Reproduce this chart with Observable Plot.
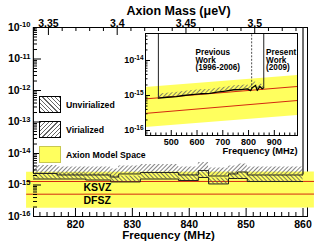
<!DOCTYPE html>
<html><head><meta charset="utf-8">
<script src="https://cdn.jsdelivr.net/npm/d3@7"></script>
<script src="https://cdn.jsdelivr.net/npm/@observablehq/plot@0.6"></script>
<style>
html,body{margin:0;padding:0;background:#fff;}
#wrap{position:relative;width:314px;height:243px;overflow:hidden;font-family:"Liberation Sans",Arial,sans-serif;font-weight:bold;}
#wrap svg{position:absolute;overflow:visible;}
.legbox{position:absolute;box-sizing:border-box;width:22px;height:17px;}
.legtxt{position:absolute;font-size:8.7px;line-height:10px;white-space:nowrap;color:#000;}
</style></head><body>
<svg width="0" height="0" style="position:absolute">
<defs>
<pattern id="hatchFwd" width="3" height="3" patternUnits="userSpaceOnUse" patternTransform="rotate(45)"><line x1="0.5" y1="0" x2="0.5" y2="3" stroke="#666" stroke-width="0.8"/></pattern>
<pattern id="hatchBack" width="3" height="3" patternUnits="userSpaceOnUse" patternTransform="rotate(-45)"><line x1="0.5" y1="0" x2="0.5" y2="3" stroke="#555" stroke-width="0.8"/></pattern>
</defs></svg>
<div id="wrap"></div>
<script>
// ---------- main chart data ----------
const freqTicks = [820, 830, 840, 850, 860];
const massTicks = [3.35, 3.4, 3.45, 3.5];
const decadeTicks = [1e-16, 1e-15, 1e-14, 1e-13, 1e-12, 1e-11, 1e-10];
const binEdges = [812.6, 816.8, 821.8, 826.2, 827.6, 831.4, 838.1, 841.6, 843.4, 846.9, 848.5, 850.2, 860.0];
const virializedLimit   = [2.32e-15, 2.08e-15, 2.08e-15, 1.79e-15, 2.24e-15, 2.49e-15, 2.08e-15, 2.88e-15, 1.93e-15, 2.24e-15, 2.59e-15, 2.08e-15];
const unvirializedLimit = [1.55e-15, 1.55e-15, 1.44e-15, 1.25e-15, 1.25e-15, 1.55e-15, 1.39e-15, 1.73e-15, 1.08e-15, 1.61e-15, 1.61e-15, 1.29e-15];
const modelFreq = [811.4, 862.0];
const modelLow  = [1.83e-16, 1.85e-16];
const modelHigh = [2.55e-15, 2.58e-15];
const ksvzLine  = [1.29e-15, 1.30e-15];
const dfszLine  = [5.1e-16, 5.15e-16];
const legendLabels = ["Unvirialized", "Virialized", "Axion Model Space"];

// ---------- inset data ----------
const insetFreqTicks = [500, 600, 700, 800, 900];
const insetDecades = [1e-16, 1e-15, 1e-14];
const insetBandFreq = [400, 990];
const insetBandLow  = [1.22e-16, 2.68e-16];
const insetBandHigh = [1.69e-15, 3.73e-15];
const insetKsvz = [8.0e-16, 1.81e-15];
const insetDfsz = [3.08e-16, 7.2e-16];
const limitFreq  = [450, 484, 520, 547, 580, 613, 650, 678, 710, 743, 770, 795, 808, 814, 827, 834, 844, 853, 859];
const limitValue = [8.4e-16, 8.9e-16, 9.3e-16, 1.0e-15, 1.06e-15, 1.12e-15, 1.15e-15, 1.24e-15, 1.33e-15, 1.46e-15, 1.48e-15, 1.55e-15, 1.38e-15, 1.66e-15, 1.93e-15, 1.39e-15, 1.81e-15, 1.55e-15, 1.66e-15];
const previousEnd = {f: 812, v: 1.5e-15};

// mass axis conversion (µeV per MHz, with the axis' offset)
const hPlanck = 4.1357e-3, massShift = 0.0216;
const massToFreq = m => (m + massShift) / hPlanck;

const FONT = '"Liberation Sans", Arial, sans-serif';
const YELLOW = "#ffff5e", RED = "#d42a10";

function supers(svg) {
  svg.querySelectorAll("text").forEach(t => {
    const m = /^10\^(-?\d+)$/.exec(t.textContent.trim());
    if (m) {
      t.textContent = "10";
      const ts = document.createElementNS("http://www.w3.org/2000/svg", "tspan");
      ts.setAttribute("dy", "-0.5em");
      ts.setAttribute("font-size", "0.72em");
      ts.textContent = m[1];
      t.append(ts);
    }
  });
}

const wrap = document.getElementById("wrap");

// ---------- main plot ----------
const W = 314, H = 243, mL = 33, mR = 7, mT = 27, mB = 27;
const fw = W - mL - mR, fh = H - mT - mB;
const freqMinor = d3.range(0, 40).map(i => 812.5 + 1.25 * i).filter(f => f > 812.7 && f < 860.7 && !freqTicks.includes(f));
const massMinor = d3.range(334, 354).map(i => i / 100).filter(m => !massTicks.some(t => Math.abs(t - m) < 1e-6));
const decadeMinor = [];
for (let e = -16; e < -10; e++) for (let k = 2; k <= 9; k++) decadeMinor.push(k * Math.pow(10, e));

const modelRows = modelFreq.map((f, i) => ({f, lo: modelLow[i], hi: modelHigh[i]}));
const ksvzRows = modelFreq.map((f, i) => ({f, v: ksvzLine[i]}));
const dfszRows = modelFreq.map((f, i) => ({f, v: dfszLine[i]}));
const stepRows = vals => binEdges.map((x, i) => ({x, v: vals[Math.min(i, vals.length - 1)]}));
const virRows = stepRows(virializedLimit), unvRows = stepRows(unvirializedLimit);
const edgeRules = [{f: binEdges[0], v: virializedLimit[0]}, {f: binEdges[binEdges.length - 1], v: virializedLimit[virializedLimit.length - 1]}];

const main = Plot.plot({
  width: W, height: H, marginLeft: mL, marginRight: mR, marginTop: mT, marginBottom: mB,
  style: {fontFamily: FONT, fontWeight: "bold", fontSize: "10.5px", background: "transparent", overflow: "visible"},
  x: {domain: [812.62, 860.79], label: null},
  y: {type: "log", domain: [1e-16, 1e-10], label: null},
  marks: [
    Plot.frame({stroke: "#000", strokeWidth: 1}),
    Plot.areaY(modelRows, {x: "f", y1: "lo", y2: "hi", fill: YELLOW}),
    Plot.line(ksvzRows, {x: "f", y: "v", stroke: RED, strokeWidth: 1}),
    Plot.line(dfszRows, {x: "f", y: "v", stroke: RED, strokeWidth: 1}),
    Plot.areaY(virRows, {x: "x", y1: "v", y2: d => d.v * 1.8, curve: "step-after", fill: "url(#hatchFwd)"}),
    Plot.areaY(unvRows, {x: "x", y1: "v", y2: d => d.v * 1.55, curve: "step-after", fill: "url(#hatchBack)"}),
    Plot.line(virRows, {x: "x", y: "v", curve: "step-after", stroke: "#222", strokeWidth: 1}),
    Plot.line(unvRows, {x: "x", y: "v", curve: "step-after", stroke: "#222", strokeWidth: 1}),
    Plot.ruleX(edgeRules, {x: "f", y1: "v", y2: 1e-10, stroke: "#111", strokeWidth: 1.2}),
    Plot.tickX(freqTicks, {x: d => d, insetTop: fh - 8, stroke: "#000"}),
    Plot.tickX(freqMinor, {x: d => d, insetTop: fh - 4, stroke: "#000"}),
    Plot.tickX(massTicks, {x: massToFreq, insetBottom: fh - 8, stroke: "#000"}),
    Plot.tickX(massMinor, {x: massToFreq, insetBottom: fh - 4, stroke: "#000"}),
    Plot.tickY(decadeTicks, {y: d => d, insetRight: fw - 8, stroke: "#000"}),
    Plot.tickY(decadeMinor, {y: d => d, insetRight: fw - 4, stroke: "#000"}),
    Plot.axisY(decadeTicks, {tickSize: 0, tickPadding: 3, tickFormat: d => "10^" + Math.round(Math.log10(d)), fontSize: 10.5}),
    Plot.axisX(freqTicks, {tickSize: 0, tickPadding: 4, tickFormat: d => String(d), fontSize: 10.5}),
    Plot.text(massTicks, {x: massToFreq, frameAnchor: "top", dy: -8, text: d => String(d), fontSize: 10.5}),
    Plot.text(["Axion Mass (μeV)"], {frameAnchor: "top", dy: -21, dx: 8, text: d => d, fontSize: 12.5}),
    Plot.text(["Frequency (MHz)"], {frameAnchor: "bottom", dy: 22, dx: -2, text: d => d, fontSize: 11.5}),
    Plot.text([{t: "KSVZ", f: 821.4, v: 8.3e-16}, {t: "DFSZ", f: 821.4, v: 3.2e-16}], {x: "f", y: "v", text: "t", textAnchor: "start", fontSize: 10.5})
  ]
});
main.style.left = "0px"; main.style.top = "0px";
supers(main);
wrap.append(main);

// ---------- legend ----------
const legStyles = [
  "border:1px solid #000;background:repeating-linear-gradient(45deg,#666 0px,#666 0.8px,#fff 0.8px,#fff 3px);",
  "border:1px solid #000;background:repeating-linear-gradient(135deg,#666 0px,#666 0.8px,#fff 0.8px,#fff 3px);",
  "border:1px solid #c8c850;background:" + YELLOW + ";"
];
legendLabels.forEach((lab, i) => {
  const top = 96 + 25 * i;
  const b = document.createElement("div");
  b.className = "legbox"; b.style.cssText = `left:39px;top:${top}px;` + legStyles[i];
  const t = document.createElement("div");
  t.className = "legtxt"; t.style.left = "66px"; t.style.top = (top + 4) + "px"; t.textContent = lab;
  wrap.append(b, t);
});

// ---------- inset ----------
const IW = 205, IH = 132, imL = 45, imR = 8, imT = 5, imB = 25;
const ifw = IW - imL - imR, ifh = IH - imT - imB;
const insetMinorX = d3.range(420, 990, 20).filter(f => !insetFreqTicks.includes(f));
const insetMinorY = [];
for (let e = -17; e <= -14; e++) for (let k = 2; k <= 9; k++) { const v = k * Math.pow(10, e); if (v > 7.2e-17 && v < 5.9e-14) insetMinorY.push(v); }
const bandRows = insetBandFreq.map((f, i) => ({f, lo: insetBandLow[i], hi: insetBandHigh[i], k: insetKsvz[i], d: insetDfsz[i]}));
const limitRows = limitFreq.map((f, i) => ({f, v: limitValue[i]}));
const limitEdges = [limitRows[0], limitRows[limitRows.length - 1]];

const inset = Plot.plot({
  width: IW, height: IH, marginLeft: imL, marginRight: imR, marginTop: imT, marginBottom: imB,
  style: {fontFamily: FONT, fontWeight: "bold", fontSize: "9px", background: "transparent", overflow: "visible"},
  x: {domain: [400, 990], label: null},
  y: {type: "log", domain: [7.2e-17, 5.9e-14], label: null},
  marks: [
    Plot.frame({fill: "#fff"}),
    Plot.areaY(bandRows, {x: "f", y1: "lo", y2: "hi", fill: YELLOW}),
    Plot.line(bandRows, {x: "f", y: "k", stroke: RED, strokeWidth: 1}),
    Plot.line(bandRows, {x: "f", y: "d", stroke: RED, strokeWidth: 1}),
    Plot.areaY(limitRows, {x: "f", y1: "v", y2: d => d.v * 1.3, fill: "url(#hatchFwd)"}),
    Plot.line(limitRows, {x: "f", y: "v", stroke: "#000", strokeWidth: 1.3}),
    Plot.ruleX(limitEdges, {x: "f", y1: "v", y2: 5.9e-14, stroke: "#222", strokeWidth: 1}),
    Plot.ruleX([previousEnd], {x: "f", y1: "v", y2: 5.9e-14, stroke: "#222", strokeWidth: 0.8, strokeDasharray: "2,1.5"}),
    Plot.tickX(insetFreqTicks, {x: d => d, insetTop: ifh - 5, stroke: "#000"}),
    Plot.tickX(insetMinorX, {x: d => d, insetTop: ifh - 2.5, stroke: "#000"}),
    Plot.tickY(insetDecades, {y: d => d, insetRight: ifw - 5, stroke: "#000"}),
    Plot.tickY(insetMinorY, {y: d => d, insetRight: ifw - 2.5, stroke: "#000"}),
    Plot.frame({stroke: "#000", strokeWidth: 1}),
    Plot.axisX(insetFreqTicks, {tickSize: 0, tickPadding: 3, tickFormat: d => String(d), fontSize: 9}),
    Plot.axisY(insetDecades, {tickSize: 0, tickPadding: 2, tickFormat: d => "10^" + Math.round(Math.log10(d)), fontSize: 9}),
    Plot.text(["Frequency (MHz)"], {frameAnchor: "bottom-right", textAnchor: "end", dy: 18, text: d => d, fontSize: 9.3}),
    Plot.text([{t: "Previous\nWork\n(1996-2006)", f: 594, v: 2.1e-14}, {t: "Present\nWork\n(2009)", f: 868, v: 2.1e-14}],
      {x: "f", y: "v", text: "t", textAnchor: "start", lineAnchor: "top", lineHeight: 0.95, fontSize: 8.2})
  ]
});
inset.style.left = "100px"; inset.style.top = "28px";
supers(inset);
wrap.append(inset);
</script>
</body></html>
